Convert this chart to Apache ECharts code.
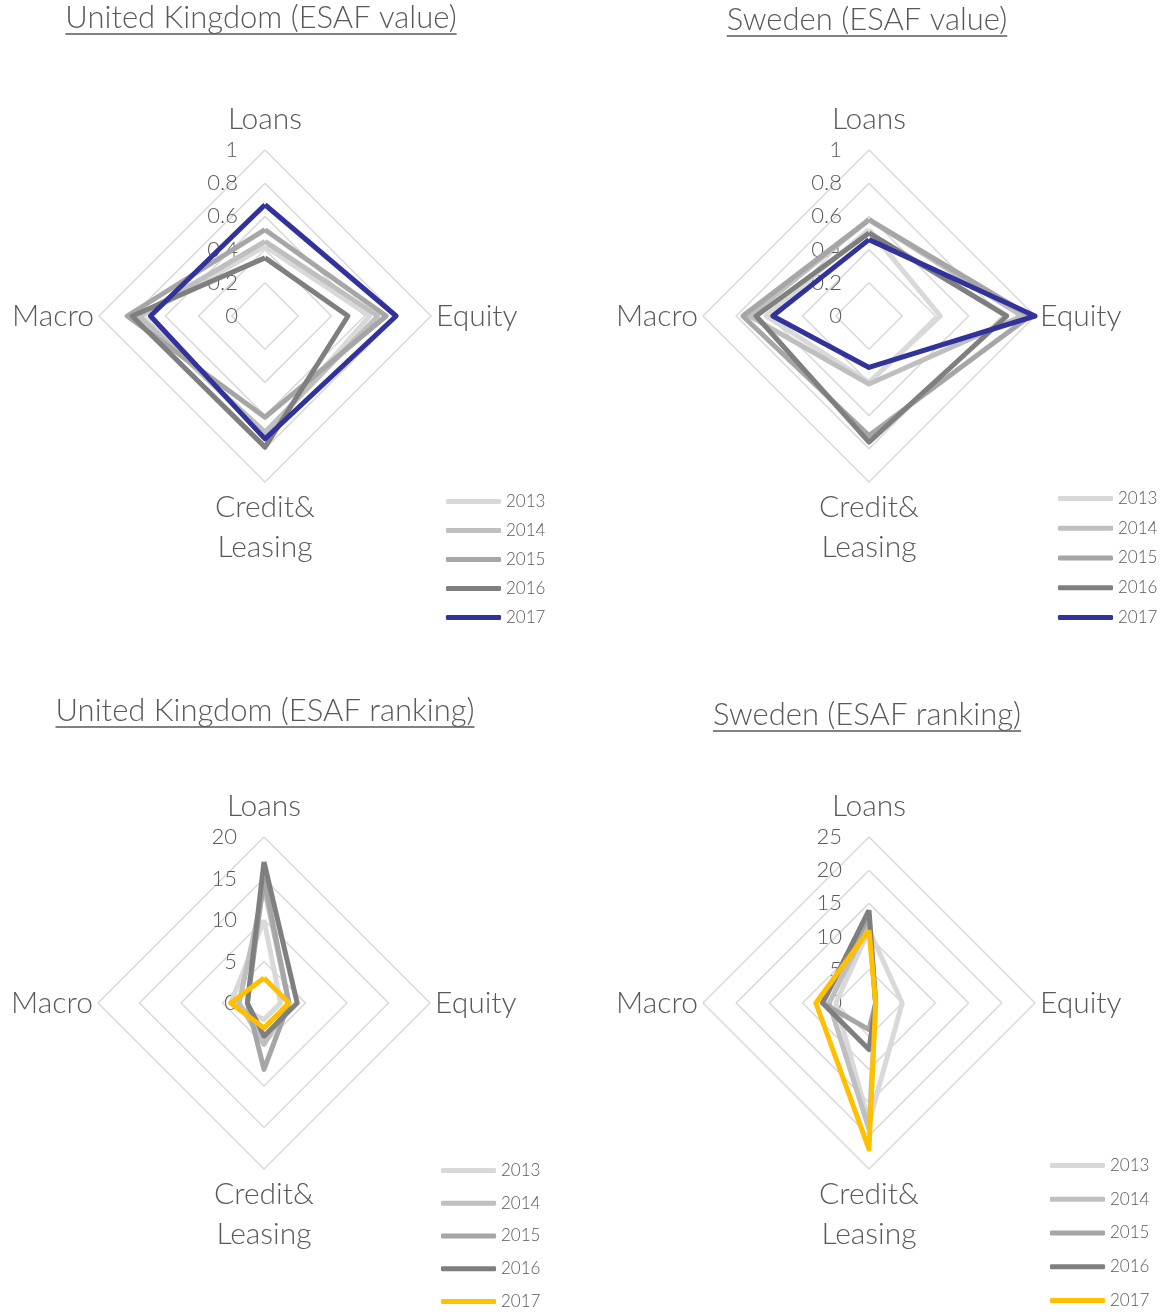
<!DOCTYPE html>
<html>
<head>
<meta charset="utf-8">
<script src="https://cdn.jsdelivr.net/npm/echarts@6/dist/echarts.min.js"></script>
<style>
  html, body { margin: 0; background: #fff; }
  #main { width: 1160px; height: 1312px; }
</style>
</head>
<body>
<div id="main"></div>
<script>
// indicators in reading order: top, right, bottom, left
const indicators = ['Loans', 'Equity', 'Credit&\nLeasing', 'Macro'];
const years = ['2013', '2014', '2015', '2016', '2017'];

// each row: [Loans, Equity, Credit&Leasing, Macro]
const ukValue = [
  [0.42, 0.63, 0.72, 0.74],
  [0.45, 0.68, 0.70, 0.76],
  [0.52, 0.73, 0.61, 0.83],
  [0.35, 0.50, 0.79, 0.80],
  [0.67, 0.79, 0.74, 0.69]
];
const seValue = [
  [0.52, 0.43, 0.40, 0.62],
  [0.58, 0.92, 0.41, 0.72],
  [0.58, 0.97, 0.72, 0.76],
  [0.50, 0.83, 0.76, 0.68],
  [0.46, 1.00, 0.31, 0.58]
];
const ukRank = [
  [10, 2, 2, 4],
  [14, 3, 5, 3],
  [15, 3, 8, 2],
  [17, 4, 4, 2],
  [3, 3, 3, 4]
];
const seRank = [
  [11, 5, 18, 5],
  [12, 1, 19, 6],
  [13, 1, 4, 7],
  [14, 1, 7, 7],
  [11, 1, 22, 8]
];

const greys = ['#d9d9d9', '#bfbfbf', '#a6a6a6', '#7f7f7f'];
const valueColors = greys.concat('#31339a');
const rankColors = greys.concat('#ffc000');

const charts = [
  { title: 'United Kingdom (ESAF value)', tx: 261, ty: 18, center: [265, 316], max: 1, split: 5,
    values: ukValue, colors: valueColors, legendLeft: 446, legendTop: 493, legendGap: 12 },
  { title: 'Sweden (ESAF value)', tx: 867, ty: 20, center: [869, 316], max: 1, split: 5,
    values: seValue, colors: valueColors, legendLeft: 1058, legendTop: 490, legendGap: 12.75 },
  { title: 'United Kingdom (ESAF ranking)', tx: 265, ty: 711, center: [264, 1003], max: 20, split: 4,
    values: ukRank, colors: rankColors, legendLeft: 441, legendTop: 1162, legendGap: 15.75 },
  { title: 'Sweden (ESAF ranking)', tx: 867, ty: 715, center: [869, 1003], max: 25, split: 5,
    values: seRank, colors: rankColors, legendLeft: 1050, legendTop: 1157, legendGap: 16.75 }
];

// echarts lays indicators out counter-clockwise from the top
const order = [0, 3, 2, 1];

const FONT = 'Lato';
const GREY_TEXT = '#595959';
const TITLE_SIZE = 31;

const ctx = document.createElement('canvas').getContext('2d');
function textWidth(t, size) {
  ctx.font = '300 ' + size + 'px ' + FONT;
  return ctx.measureText(t).width;
}

const myChart = echarts.init(document.getElementById('main'), null, { renderer: 'canvas' });

const option = {
  backgroundColor: '#fff',
  animation: false,
  textStyle: { fontFamily: FONT },
  graphic: charts.flatMap(c => {
    const w = textWidth(c.title, TITLE_SIZE);
    return [
      { type: 'text', x: c.tx, y: c.ty,
        style: { text: c.title, fill: GREY_TEXT, font: '300 ' + TITLE_SIZE + 'px ' + FONT, align: 'center', verticalAlign: 'middle' } },
      { type: 'line', shape: { x1: c.tx - w / 2, y1: c.ty + 16, x2: c.tx + w / 2, y2: c.ty + 16 },
        style: { stroke: GREY_TEXT, lineWidth: 1.5 } }
    ];
  }),
  radar: charts.map(c => ({
    center: c.center,
    radius: 166,
    startAngle: 90,
    splitNumber: c.split,
    shape: 'polygon',
    nameGap: 5,
    indicator: order.map((k, i) => {
      const ind = { name: indicators[k], min: 0, max: c.max };
      if (i === 0) ind.axisLabel = { show: true };
      return ind;
    }),
    axisName: { color: GREY_TEXT, fontSize: 30, fontFamily: FONT, fontWeight: 300, lineHeight: 40 },
    axisLine: { show: false },
    axisTick: { show: false },
    axisLabel: { show: false, color: GREY_TEXT, fontSize: 22, fontFamily: FONT, fontWeight: 300, margin: 27 },
    splitLine: { lineStyle: { color: '#d9d9d9', width: 1.5 } },
    splitArea: { show: false }
  })),
  legend: charts.map((c, ci) => ({
    data: years.map(y => y + ' '.repeat(ci)),
    orient: 'vertical',
    left: c.legendLeft,
    top: c.legendTop,
    height: 200,
    padding: 0,
    itemWidth: 55,
    itemHeight: 5,
    itemGap: c.legendGap,
    icon: 'roundRect',
    selectedMode: false,
    formatter: n => n.trim(),
    textStyle: { color: GREY_TEXT, fontSize: 17, fontFamily: FONT, fontWeight: 300 }
  })),
  series: charts.map((c, ci) => ({
    type: 'radar',
    radarIndex: ci,
    symbol: 'none',
    data: years.map((y, yi) => ({
      name: y + ' '.repeat(ci),
      value: order.map(k => c.values[yi][k]),
      lineStyle: { color: c.colors[yi], width: 5 },
      itemStyle: { color: c.colors[yi] }
    }))
  }))
};

myChart.setOption(option);
</script>
</body>
</html>
